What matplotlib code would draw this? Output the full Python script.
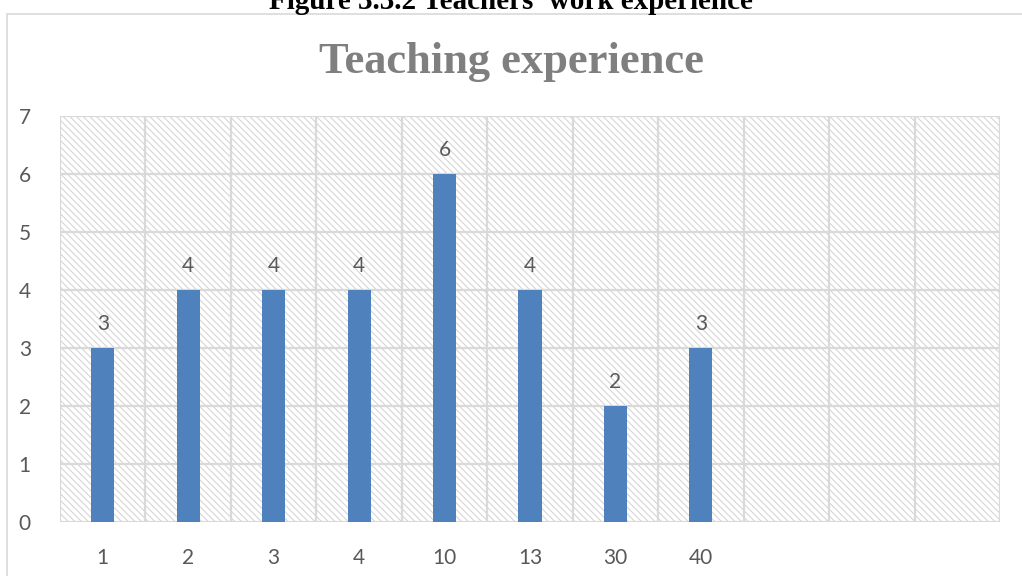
import matplotlib.pyplot as plt
from matplotlib.patches import Rectangle

# years of teaching experience and how many teachers fall in each
years = ['1', '2', '3', '4', '10', '13', '30', '40', '', '', '']
teachers = [3, 4, 4, 4, 6, 4, 2, 3]

bar_color = '#4f81bd'
grid_color = '#d9d9d9'
text_color = '#595959'

plt.rcParams['hatch.linewidth'] = 0.8

fig = plt.figure(figsize=(10.22, 5.76), dpi=100)

# outer chart frame, running off the right and bottom edges
fig.patches.append(Rectangle((7 / 1022, -0.1), 1.2, (576 - 14) / 576 + 0.1,
                             transform=fig.transFigure, fill=False,
                             edgecolor=grid_color, linewidth=1.2))

# caption sitting above the chart frame (cut off at the top)
fig.text(0.5, 1.0 - 15 / 576, "Figure 3.3.2 Teachers' work experience",
         ha='center', va='bottom', fontsize=21, fontweight='bold',
         family='Liberation Serif', color='black')

fig.text(0.5, 1.0 - 62 / 576, 'Teaching experience', ha='center', va='center',
         fontsize=32, fontweight='bold', family='Liberation Serif', color='#7f7f7f')

ax = fig.add_axes([60 / 1022, 54 / 576, 940 / 1022, 406 / 576])

# hatched plot area
ax.patch.set_facecolor('white')
ax.add_patch(Rectangle((0, 0), 1, 1, transform=ax.transAxes, facecolor='none',
                       edgecolor='#d6d6d6', hatch='\\\\\\\\\\', linewidth=0, zorder=0))

x = list(range(len(years)))
bars = ax.bar(x[:len(teachers)], teachers, width=0.27, color=bar_color, zorder=3)
for b, v in zip(bars, teachers):
    ax.text(b.get_x() + b.get_width() / 2, v + 0.25, str(v), ha='center', va='bottom',
            fontsize=15, family='Lato', color=text_color)

ax.set_xlim(-0.5, len(years) - 0.5)
ax.set_ylim(0, 7)
ax.set_yticks(range(0, 8))
ax.set_xticks(x)
ax.set_xticklabels(years)

# grid: horizontal at each unit, vertical between categories
for y in range(0, 8):
    ax.axhline(y, color=grid_color, linewidth=1.6, zorder=1)
for i in range(len(years) + 1):
    ax.axvline(i - 0.5, color=grid_color, linewidth=1.6, zorder=1)

for s in ax.spines.values():
    s.set_visible(False)
ax.tick_params(length=0, labelsize=15, labelcolor=text_color)
ax.tick_params(axis='x', pad=19)
ax.tick_params(axis='y', pad=21)
for lab in ax.get_xticklabels() + ax.get_yticklabels():
    lab.set_family('Lato')

plt.savefig('out.png', dpi=100)
